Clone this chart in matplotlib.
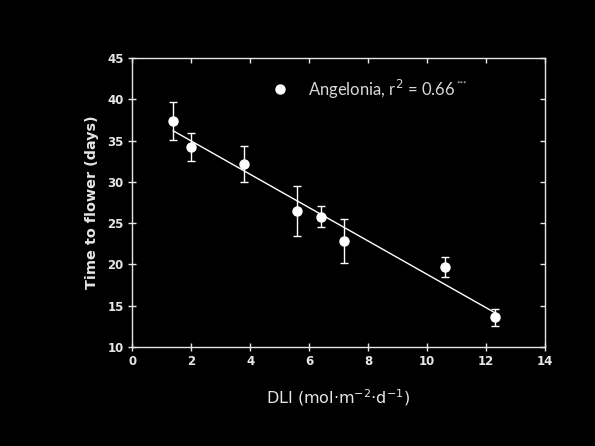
import numpy as np
import matplotlib
matplotlib.use("Agg")
import matplotlib.pyplot as plt

# mean DLI and time to flower with standard error
dli = [1.4, 2.0, 3.8, 5.6, 6.4, 7.2, 10.6, 12.3]
days = [37.4, 34.2, 32.2, 26.5, 25.8, 22.8, 19.7, 13.6]
err = [2.3, 1.7, 2.2, 3.0, 1.3, 2.65, 1.2, 1.0]

# fitted regression line
fit_intercept = 39.0
fit_slope = -2.02
fit_range = [1.4, 12.3]

xticks = [0, 2, 4, 6, 8, 10, 12, 14]
yticks = [10, 15, 20, 25, 30, 35, 40, 45]

fg = "#e6e6e6"

fig = plt.figure(figsize=(5.95, 4.46), dpi=100, facecolor="black")
ax = fig.add_axes([0.222, 0.222, 0.694, 0.648], facecolor="black")

xf = np.array(fit_range)
ax.plot(xf, fit_intercept + fit_slope * xf, color="white", lw=1.0, zorder=2)
ax.errorbar(dli, days, yerr=err, fmt="o", color="white", ms=6.5, mec="white",
            ecolor="white", elinewidth=1.0, capsize=3.2, capthick=1.0, zorder=3)

ax.set_xlim(0, 14)
ax.set_ylim(10, 45)
ax.set_xticks(xticks)
ax.set_yticks(yticks)

for s in ax.spines.values():
    s.set_color(fg)
    s.set_linewidth(1.0)

ax.tick_params(axis="both", direction="inout", length=6, width=1.0, color=fg,
               labelcolor=fg, labelsize=8.5, pad=3)
for lab in ax.get_xticklabels() + ax.get_yticklabels():
    lab.set_fontweight("bold")

# inward ticks on top and right
top = ax.secondary_xaxis("top")
top.set_xticks(xticks)
top.tick_params(direction="in", length=3.5, width=1.0, color=fg, labeltop=False)
top.spines["top"].set_visible(False)
right = ax.secondary_yaxis("right")
right.set_yticks(yticks)
right.tick_params(direction="in", length=3.5, width=1.0, color=fg, labelright=False)
right.spines["right"].set_visible(False)

ax.set_ylabel("Time to flower (days)", color=fg, fontsize=10.4, fontweight="bold", labelpad=6)
ax.set_xlabel(r"DLI (mol$\cdot$m$^{-2}$$\cdot$d$^{-1}$)", color=fg, fontsize=11.5, labelpad=14)

# legend entry
ax.plot([5.0], [41.2], "o", color="white", ms=6.5, zorder=3)
leg = ax.text(5.95, 41.2, r"Angelonia, r$^2$ = 0.66", color="#d8d8d8", fontsize=12,
              family="Lato", va="center", ha="left")
ax.annotate("***", xy=(1.0, 0.72), xycoords=leg, xytext=(1, 0), textcoords="offset points",
            color="#d8d8d8", fontsize=6, family="Lato", va="center", ha="left")

fig.savefig("out.png", dpi=100, facecolor="black")
